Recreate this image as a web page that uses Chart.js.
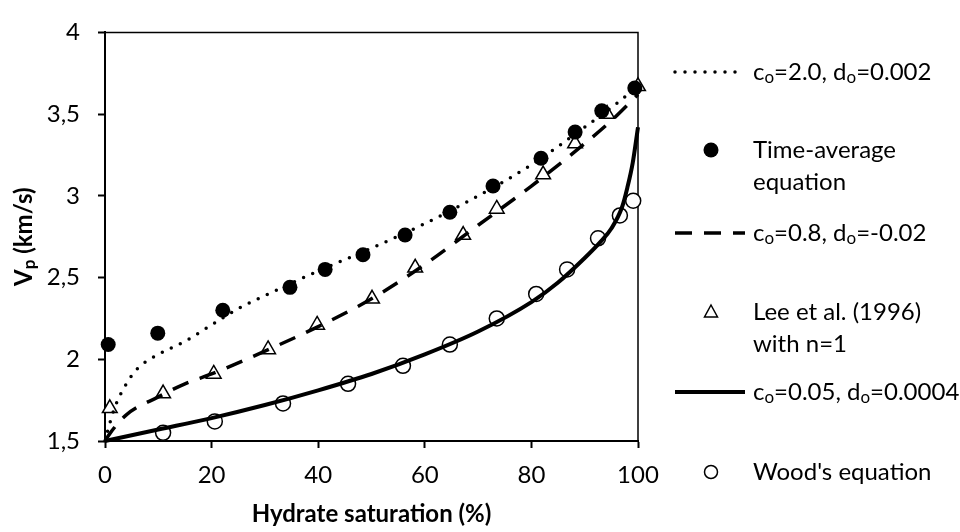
<!DOCTYPE html>
<html lang="en">
<head>
<meta charset="UTF-8">
<title>Vp vs hydrate saturation</title>
<script src="https://cdn.jsdelivr.net/npm/chart.js"></script>
<style>
  body { margin: 0; background: #fff; }
  #wrap { width: 960px; height: 532px; position: relative; }
</style>
</head>
<body>
<div id="wrap"><canvas id="vpChart"></canvas></div>
<script>
// tick values
const xTicks = [0, 20, 40, 60, 80, 100];
const yTicks = [1.5, 2, 2.5, 3, 3.5, 4];

// measured points
const timeAvgSat = [0.6, 9.9, 22.1, 34.7, 41.3, 48.4, 56.3, 64.7, 72.8, 81.8, 88.2, 93.2, 99.4];
const timeAvgVp  = [2.09, 2.16, 2.30, 2.44, 2.55, 2.64, 2.76, 2.90, 3.06, 3.23, 3.39, 3.52, 3.66];
const leeSat = [0.9, 10.9, 20.4, 30.6, 39.8, 50.1, 58.2, 67.2, 73.5, 82.2, 88.2, 94.2, 100];
const leeVp  = [1.70, 1.79, 1.91, 2.06, 2.21, 2.37, 2.56, 2.76, 2.92, 3.13, 3.32, 3.50, 3.67];
const woodSat = [10.9, 20.6, 33.4, 45.6, 55.9, 64.7, 73.5, 80.9, 86.7, 92.5, 96.6, 99.1];
const woodVp  = [1.55, 1.62, 1.73, 1.85, 1.96, 2.09, 2.25, 2.40, 2.55, 2.74, 2.88, 2.97];

// model curves
const dottedSat = [0, 1, 2, 4, 6, 10, 15, 20, 25, 30, 40, 50, 60, 70, 80, 90, 95, 100];
const dottedVp  = [1.5, 1.62, 1.72, 1.85, 1.94, 2.03, 2.11, 2.21, 2.31, 2.39, 2.54, 2.68, 2.83, 3.00, 3.19, 3.42, 3.54, 3.67];
const dashedSat = [0, 1, 4, 10, 15, 20, 30, 40, 50, 60, 70, 80, 90, 95, 100];
const dashedVp  = [1.5, 1.55, 1.66, 1.77, 1.85, 1.91, 2.05, 2.2, 2.37, 2.58, 2.82, 3.06, 3.32, 3.46, 3.62];
const solidSat = [0, 10, 20, 30, 40, 50, 60, 70, 80, 85, 90, 93, 95, 97, 98, 99, 100];
const solidVp  = [1.5, 1.57, 1.64, 1.72, 1.81, 1.91, 2.03, 2.17, 2.35, 2.47, 2.62, 2.72, 2.80, 2.93, 3.05, 3.2, 3.42];

// "_o" marks a subscript letter, "|" a line break
const labels = ['c_o=2.0, d_o=0.002', 'Time-average|equation', 'c_o=0.8, d_o=-0.02',
                'Lee et al. (1996)|with n=1', 'c_o=0.05, d_o=0.0004', "Wood's equation"];

const FONT = 'Lato, "Open Sans", sans-serif';
const FS = 24;
const DOTS = [0, 10];
const DASHES = [17, 12];

function pts(xs, ys) { return xs.map((x, i) => ({ x: x, y: ys[i] })); }

// draw text with simple subscripts
function drawRich(ctx, str, x, y, size, bold) {
    const parts = str.split(/(_.)/).filter(Boolean);
    let cx = x;
    for (const p of parts) {
        if (p[0] === '_') {
            ctx.font = (bold ? 'bold ' : '') + Math.round(size * 0.7) + 'px ' + FONT;
            ctx.fillText(p[1], cx, y + size * 0.22);
            cx += ctx.measureText(p[1]).width;
        } else {
            ctx.font = (bold ? 'bold ' : '') + size + 'px ' + FONT;
            ctx.fillText(p, cx, y);
            cx += ctx.measureText(p).width;
        }
    }
    return cx - x;
}

function richWidth(ctx, str, size, bold) {
    const parts = str.split(/(_.)/).filter(Boolean);
    let w = 0;
    for (const p of parts) {
        const s = p[0] === '_' ? Math.round(size * 0.7) : size;
        ctx.font = (bold ? 'bold ' : '') + s + 'px ' + FONT;
        w += ctx.measureText(p[0] === '_' ? p[1] : p).width;
    }
    return w;
}

// top and right frame lines
const boxPlugin = {
    id: 'box',
    beforeDatasetsDraw(chart) {
        const { ctx, chartArea: a } = chart;
        ctx.save();
        ctx.strokeStyle = '#000';
        ctx.lineWidth = 1.5;
        ctx.beginPath();
        ctx.moveTo(a.left, a.top);
        ctx.lineTo(a.right, a.top);
        ctx.lineTo(a.right, a.bottom);
        ctx.stroke();
        ctx.restore();
    }
};

// axis titles + legend
const extrasPlugin = {
    id: 'extras',
    afterDraw(chart) {
        const { ctx, chartArea: a } = chart;
        ctx.save();
        ctx.fillStyle = '#000';
        ctx.strokeStyle = '#000';
        ctx.textBaseline = 'middle';

        ctx.font = 'bold ' + FS + 'px ' + FONT;
        ctx.textAlign = 'center';
        ctx.fillText('Hydrate saturation (%)', (a.left + a.right) / 2, 514);
        ctx.textAlign = 'left';
        const yt = 'V_p (km/s)';
        const yw = richWidth(ctx, yt, FS, true);
        ctx.save();
        ctx.translate(24, (a.top + a.bottom) / 2);
        ctx.rotate(-Math.PI / 2);
        drawRich(ctx, yt, -yw / 2, 0, FS, true);
        ctx.restore();

        const rowY = [72, 150, 233, 312, 392, 472];
        const kinds = ['dotted', 'filled', 'dashed', 'triangle', 'solid', 'open'];
        const lx0 = 675, lx1 = 745, mx = 711, tx = 753;
        kinds.forEach((k, i) => {
            const y = rowY[i];
            ctx.save();
            if (k === 'dotted' || k === 'dashed' || k === 'solid') {
                ctx.lineWidth = k === 'solid' ? 4 : 3.5;
                ctx.lineCap = k === 'dotted' ? 'round' : 'butt';
                ctx.setLineDash(k === 'dotted' ? DOTS : k === 'dashed' ? DASHES : []);
                ctx.beginPath();
                ctx.moveTo(lx0, y);
                ctx.lineTo(lx1, y);
                ctx.stroke();
            } else if (k === 'filled') {
                ctx.beginPath();
                ctx.arc(mx, y, 7.5, 0, Math.PI * 2);
                ctx.fill();
            } else if (k === 'open') {
                ctx.lineWidth = 1.5;
                ctx.beginPath();
                ctx.arc(mx, y, 6.5, 0, Math.PI * 2);
                ctx.stroke();
            } else {
                ctx.lineWidth = 1.5;
                ctx.beginPath();
                ctx.moveTo(mx, y - 7);
                ctx.lineTo(mx + 6.5, y + 5);
                ctx.lineTo(mx - 6.5, y + 5);
                ctx.closePath();
                ctx.stroke();
            }
            ctx.restore();
            labels[i].split('|').forEach((ln, j) => drawRich(ctx, ln, tx, y + j * 32, FS, false));
        });
        ctx.restore();
    }
};

new Chart(document.getElementById('vpChart'), {
    type: 'scatter',
    data: {
        datasets: [
            { label: labels[5], data: pts(woodSat, woodVp), pointStyle: 'circle', pointRadius: 7.5,
              pointBackgroundColor: '#fff', pointBorderColor: '#000', pointBorderWidth: 1.5, order: 6, clip: false },
            { label: labels[3], data: pts(leeSat, leeVp), pointStyle: 'triangle', pointRadius: 8.5,
              pointBackgroundColor: '#fff', pointBorderColor: '#000', pointBorderWidth: 1.5, order: 5, clip: false },
            { label: labels[4], data: pts(solidSat, solidVp), showLine: true, pointRadius: 0,
              borderColor: '#000', borderWidth: 4, cubicInterpolationMode: 'monotone', order: 4, clip: false },
            { label: labels[2], data: pts(dashedSat, dashedVp), showLine: true, pointRadius: 0,
              borderColor: '#000', borderWidth: 3.5, borderDash: DASHES, cubicInterpolationMode: 'monotone', order: 3, clip: false },
            { label: labels[0], data: pts(dottedSat, dottedVp), showLine: true, pointRadius: 0,
              borderColor: '#000', borderWidth: 3.5, borderDash: DOTS, borderCapStyle: 'round',
              cubicInterpolationMode: 'monotone', order: 2, clip: false },
            { label: labels[1], data: pts(timeAvgSat, timeAvgVp), pointStyle: 'circle', pointRadius: 7.5,
              pointBackgroundColor: '#000', pointBorderColor: '#000', pointBorderWidth: 0, order: 1, clip: false }
        ]
    },
    options: {
        responsive: true,
        maintainAspectRatio: false,
        animation: false,
        events: [],
        layout: { padding: { top: 17, right: 322, left: 0, bottom: 0 } },
        plugins: { legend: { display: false }, tooltip: { enabled: false } },
        scales: {
            x: {
                type: 'linear', min: 0, max: 100,
                afterBuildTicks: s => { s.ticks = xTicks.map(v => ({ value: v })); },
                afterFit: s => { s.height = 91; },
                grid: { display: true, drawOnChartArea: false, tickLength: 7, tickColor: '#000', tickWidth: 2 },
                border: { display: true, color: '#000', width: 2 },
                ticks: { color: '#000', font: { family: FONT, size: FS }, padding: 13, maxRotation: 0 }
            },
            y: {
                type: 'linear', min: 1.5, max: 4,
                afterBuildTicks: s => { s.ticks = yTicks.map(v => ({ value: v })); },
                afterFit: s => { s.width = 105; },
                grid: { display: true, drawOnChartArea: false, tickLength: 7, tickColor: '#000', tickWidth: 2 },
                border: { display: true, color: '#000', width: 2 },
                ticks: { color: '#000', font: { family: FONT, size: FS }, padding: 18,
                         callback: v => String(v).replace('.', ',') }
            }
        }
    },
    plugins: [boxPlugin, extrasPlugin]
});
</script>
</body>
</html>
